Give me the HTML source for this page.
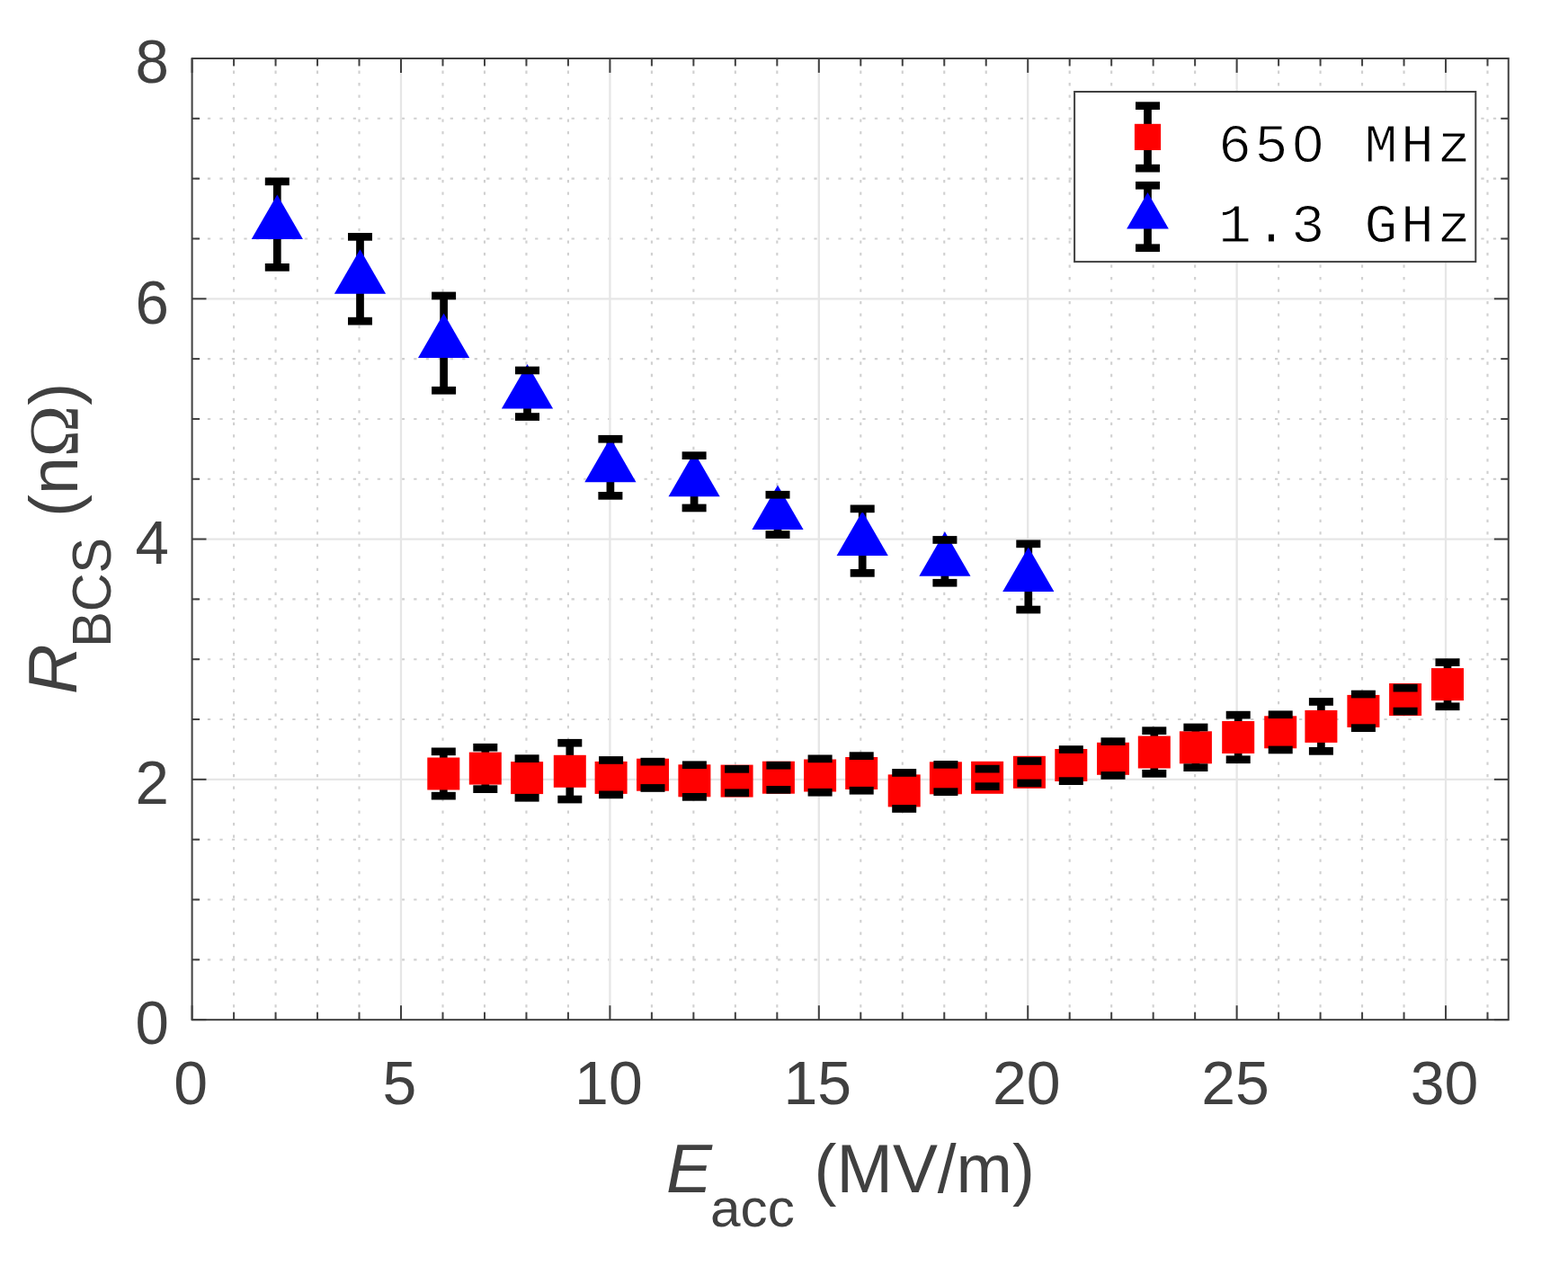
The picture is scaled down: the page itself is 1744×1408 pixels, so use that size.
<!DOCTYPE html>
<html lang="en"><head><meta charset="utf-8">
<title>R_BCS versus E_acc</title>
<style>
html,body{margin:0;padding:0;background:#fff;}
body{width:1744px;height:1408px;overflow:hidden;}
svg{display:block;}
.t{font-family:"Liberation Sans",sans-serif;fill:#404040;}
.tk{font-size:67.2px;}
.lb{font-size:74.5px;}
.sb{font-size:60.3px;}
.om{font-family:"Liberation Serif",serif;font-size:76.5px;}
.lg{font-family:"Liberation Mono",monospace;font-size:59.5px;letter-spacing:3.55px;fill:#000;stroke:#fff;stroke-width:1px;}
</style></head><body>
<svg width="1744" height="1408" viewBox="0 0 1744 1408">
<rect x="0" y="0" width="1744" height="1408" fill="#ffffff"/>
<g stroke="#d0d0d0" stroke-width="2.1" stroke-dasharray="3.3 10.19" fill="none">
<line x1="260.08" y1="65" x2="260.08" y2="1134.15" stroke-dashoffset="-0.1"/>
<line x1="306.56" y1="65" x2="306.56" y2="1134.15" stroke-dashoffset="-0.1"/>
<line x1="353.04" y1="65" x2="353.04" y2="1134.15" stroke-dashoffset="-0.1"/>
<line x1="399.52" y1="65" x2="399.52" y2="1134.15" stroke-dashoffset="-0.1"/>
<line x1="492.49" y1="65" x2="492.49" y2="1134.15" stroke-dashoffset="-0.1"/>
<line x1="538.97" y1="65" x2="538.97" y2="1134.15" stroke-dashoffset="-0.1"/>
<line x1="585.45" y1="65" x2="585.45" y2="1134.15" stroke-dashoffset="-0.1"/>
<line x1="631.93" y1="65" x2="631.93" y2="1134.15" stroke-dashoffset="-0.1"/>
<line x1="724.89" y1="65" x2="724.89" y2="1134.15" stroke-dashoffset="-0.1"/>
<line x1="771.37" y1="65" x2="771.37" y2="1134.15" stroke-dashoffset="-0.1"/>
<line x1="817.85" y1="65" x2="817.85" y2="1134.15" stroke-dashoffset="-0.1"/>
<line x1="864.33" y1="65" x2="864.33" y2="1134.15" stroke-dashoffset="-0.1"/>
<line x1="957.3" y1="65" x2="957.3" y2="1134.15" stroke-dashoffset="-0.1"/>
<line x1="1003.78" y1="65" x2="1003.78" y2="1134.15" stroke-dashoffset="-0.1"/>
<line x1="1050.26" y1="65" x2="1050.26" y2="1134.15" stroke-dashoffset="-0.1"/>
<line x1="1096.74" y1="65" x2="1096.74" y2="1134.15" stroke-dashoffset="-0.1"/>
<line x1="1189.7" y1="65" x2="1189.7" y2="1134.15" stroke-dashoffset="-0.1"/>
<line x1="1236.18" y1="65" x2="1236.18" y2="1134.15" stroke-dashoffset="-0.1"/>
<line x1="1282.66" y1="65" x2="1282.66" y2="1134.15" stroke-dashoffset="-0.1"/>
<line x1="1329.14" y1="65" x2="1329.14" y2="1134.15" stroke-dashoffset="-0.1"/>
<line x1="1422.1" y1="65" x2="1422.1" y2="1134.15" stroke-dashoffset="-0.1"/>
<line x1="1468.59" y1="65" x2="1468.59" y2="1134.15" stroke-dashoffset="-0.1"/>
<line x1="1515.07" y1="65" x2="1515.07" y2="1134.15" stroke-dashoffset="-0.1"/>
<line x1="1561.55" y1="65" x2="1561.55" y2="1134.15" stroke-dashoffset="-0.1"/>
<line x1="1654.51" y1="65" x2="1654.51" y2="1134.15" stroke-dashoffset="-0.1"/>
<line x1="213.6" y1="1067.33" x2="1677.75" y2="1067.33" stroke-dashoffset="-3.79"/>
<line x1="213.6" y1="1000.51" x2="1677.75" y2="1000.51" stroke-dashoffset="-3.79"/>
<line x1="213.6" y1="933.68" x2="1677.75" y2="933.68" stroke-dashoffset="-3.79"/>
<line x1="213.6" y1="800.04" x2="1677.75" y2="800.04" stroke-dashoffset="-3.79"/>
<line x1="213.6" y1="733.22" x2="1677.75" y2="733.22" stroke-dashoffset="-3.79"/>
<line x1="213.6" y1="666.4" x2="1677.75" y2="666.4" stroke-dashoffset="-3.79"/>
<line x1="213.6" y1="532.75" x2="1677.75" y2="532.75" stroke-dashoffset="-3.79"/>
<line x1="213.6" y1="465.93" x2="1677.75" y2="465.93" stroke-dashoffset="-3.79"/>
<line x1="213.6" y1="399.11" x2="1677.75" y2="399.11" stroke-dashoffset="-3.79"/>
<line x1="213.6" y1="265.47" x2="1677.75" y2="265.47" stroke-dashoffset="-3.79"/>
<line x1="213.6" y1="198.64" x2="1677.75" y2="198.64" stroke-dashoffset="-3.79"/>
<line x1="213.6" y1="131.82" x2="1677.75" y2="131.82" stroke-dashoffset="-3.79"/>
</g>
<g stroke="#e6e6e6" stroke-width="2.3" fill="none">
<line x1="446" y1="65" x2="446" y2="1134.15"/>
<line x1="678.41" y1="65" x2="678.41" y2="1134.15"/>
<line x1="910.81" y1="65" x2="910.81" y2="1134.15"/>
<line x1="1143.22" y1="65" x2="1143.22" y2="1134.15"/>
<line x1="1375.62" y1="65" x2="1375.62" y2="1134.15"/>
<line x1="1608.03" y1="65" x2="1608.03" y2="1134.15"/>
<line x1="213.6" y1="866.86" x2="1677.75" y2="866.86"/>
<line x1="213.6" y1="599.58" x2="1677.75" y2="599.58"/>
<line x1="213.6" y1="332.29" x2="1677.75" y2="332.29"/>
</g>
<g stroke="#404040" stroke-width="2" fill="none">
<line x1="213.6" y1="1134.15" x2="213.6" y2="1118.25"/>
<line x1="213.6" y1="65" x2="213.6" y2="80.9"/>
<line x1="260.08" y1="1134.15" x2="260.08" y2="1125.65"/>
<line x1="260.08" y1="65" x2="260.08" y2="73.5"/>
<line x1="306.56" y1="1134.15" x2="306.56" y2="1125.65"/>
<line x1="306.56" y1="65" x2="306.56" y2="73.5"/>
<line x1="353.04" y1="1134.15" x2="353.04" y2="1125.65"/>
<line x1="353.04" y1="65" x2="353.04" y2="73.5"/>
<line x1="399.52" y1="1134.15" x2="399.52" y2="1125.65"/>
<line x1="399.52" y1="65" x2="399.52" y2="73.5"/>
<line x1="446" y1="1134.15" x2="446" y2="1118.25"/>
<line x1="446" y1="65" x2="446" y2="80.9"/>
<line x1="492.49" y1="1134.15" x2="492.49" y2="1125.65"/>
<line x1="492.49" y1="65" x2="492.49" y2="73.5"/>
<line x1="538.97" y1="1134.15" x2="538.97" y2="1125.65"/>
<line x1="538.97" y1="65" x2="538.97" y2="73.5"/>
<line x1="585.45" y1="1134.15" x2="585.45" y2="1125.65"/>
<line x1="585.45" y1="65" x2="585.45" y2="73.5"/>
<line x1="631.93" y1="1134.15" x2="631.93" y2="1125.65"/>
<line x1="631.93" y1="65" x2="631.93" y2="73.5"/>
<line x1="678.41" y1="1134.15" x2="678.41" y2="1118.25"/>
<line x1="678.41" y1="65" x2="678.41" y2="80.9"/>
<line x1="724.89" y1="1134.15" x2="724.89" y2="1125.65"/>
<line x1="724.89" y1="65" x2="724.89" y2="73.5"/>
<line x1="771.37" y1="1134.15" x2="771.37" y2="1125.65"/>
<line x1="771.37" y1="65" x2="771.37" y2="73.5"/>
<line x1="817.85" y1="1134.15" x2="817.85" y2="1125.65"/>
<line x1="817.85" y1="65" x2="817.85" y2="73.5"/>
<line x1="864.33" y1="1134.15" x2="864.33" y2="1125.65"/>
<line x1="864.33" y1="65" x2="864.33" y2="73.5"/>
<line x1="910.81" y1="1134.15" x2="910.81" y2="1118.25"/>
<line x1="910.81" y1="65" x2="910.81" y2="80.9"/>
<line x1="957.3" y1="1134.15" x2="957.3" y2="1125.65"/>
<line x1="957.3" y1="65" x2="957.3" y2="73.5"/>
<line x1="1003.78" y1="1134.15" x2="1003.78" y2="1125.65"/>
<line x1="1003.78" y1="65" x2="1003.78" y2="73.5"/>
<line x1="1050.26" y1="1134.15" x2="1050.26" y2="1125.65"/>
<line x1="1050.26" y1="65" x2="1050.26" y2="73.5"/>
<line x1="1096.74" y1="1134.15" x2="1096.74" y2="1125.65"/>
<line x1="1096.74" y1="65" x2="1096.74" y2="73.5"/>
<line x1="1143.22" y1="1134.15" x2="1143.22" y2="1118.25"/>
<line x1="1143.22" y1="65" x2="1143.22" y2="80.9"/>
<line x1="1189.7" y1="1134.15" x2="1189.7" y2="1125.65"/>
<line x1="1189.7" y1="65" x2="1189.7" y2="73.5"/>
<line x1="1236.18" y1="1134.15" x2="1236.18" y2="1125.65"/>
<line x1="1236.18" y1="65" x2="1236.18" y2="73.5"/>
<line x1="1282.66" y1="1134.15" x2="1282.66" y2="1125.65"/>
<line x1="1282.66" y1="65" x2="1282.66" y2="73.5"/>
<line x1="1329.14" y1="1134.15" x2="1329.14" y2="1125.65"/>
<line x1="1329.14" y1="65" x2="1329.14" y2="73.5"/>
<line x1="1375.62" y1="1134.15" x2="1375.62" y2="1118.25"/>
<line x1="1375.62" y1="65" x2="1375.62" y2="80.9"/>
<line x1="1422.1" y1="1134.15" x2="1422.1" y2="1125.65"/>
<line x1="1422.1" y1="65" x2="1422.1" y2="73.5"/>
<line x1="1468.59" y1="1134.15" x2="1468.59" y2="1125.65"/>
<line x1="1468.59" y1="65" x2="1468.59" y2="73.5"/>
<line x1="1515.07" y1="1134.15" x2="1515.07" y2="1125.65"/>
<line x1="1515.07" y1="65" x2="1515.07" y2="73.5"/>
<line x1="1561.55" y1="1134.15" x2="1561.55" y2="1125.65"/>
<line x1="1561.55" y1="65" x2="1561.55" y2="73.5"/>
<line x1="1608.03" y1="1134.15" x2="1608.03" y2="1118.25"/>
<line x1="1608.03" y1="65" x2="1608.03" y2="80.9"/>
<line x1="1654.51" y1="1134.15" x2="1654.51" y2="1125.65"/>
<line x1="1654.51" y1="65" x2="1654.51" y2="73.5"/>
<line x1="213.6" y1="1134.15" x2="229.5" y2="1134.15"/>
<line x1="1677.75" y1="1134.15" x2="1661.85" y2="1134.15"/>
<line x1="213.6" y1="1067.33" x2="222.1" y2="1067.33"/>
<line x1="1677.75" y1="1067.33" x2="1669.25" y2="1067.33"/>
<line x1="213.6" y1="1000.51" x2="222.1" y2="1000.51"/>
<line x1="1677.75" y1="1000.51" x2="1669.25" y2="1000.51"/>
<line x1="213.6" y1="933.68" x2="222.1" y2="933.68"/>
<line x1="1677.75" y1="933.68" x2="1669.25" y2="933.68"/>
<line x1="213.6" y1="866.86" x2="229.5" y2="866.86"/>
<line x1="1677.75" y1="866.86" x2="1661.85" y2="866.86"/>
<line x1="213.6" y1="800.04" x2="222.1" y2="800.04"/>
<line x1="1677.75" y1="800.04" x2="1669.25" y2="800.04"/>
<line x1="213.6" y1="733.22" x2="222.1" y2="733.22"/>
<line x1="1677.75" y1="733.22" x2="1669.25" y2="733.22"/>
<line x1="213.6" y1="666.4" x2="222.1" y2="666.4"/>
<line x1="1677.75" y1="666.4" x2="1669.25" y2="666.4"/>
<line x1="213.6" y1="599.58" x2="229.5" y2="599.58"/>
<line x1="1677.75" y1="599.58" x2="1661.85" y2="599.58"/>
<line x1="213.6" y1="532.75" x2="222.1" y2="532.75"/>
<line x1="1677.75" y1="532.75" x2="1669.25" y2="532.75"/>
<line x1="213.6" y1="465.93" x2="222.1" y2="465.93"/>
<line x1="1677.75" y1="465.93" x2="1669.25" y2="465.93"/>
<line x1="213.6" y1="399.11" x2="222.1" y2="399.11"/>
<line x1="1677.75" y1="399.11" x2="1669.25" y2="399.11"/>
<line x1="213.6" y1="332.29" x2="229.5" y2="332.29"/>
<line x1="1677.75" y1="332.29" x2="1661.85" y2="332.29"/>
<line x1="213.6" y1="265.47" x2="222.1" y2="265.47"/>
<line x1="1677.75" y1="265.47" x2="1669.25" y2="265.47"/>
<line x1="213.6" y1="198.64" x2="222.1" y2="198.64"/>
<line x1="1677.75" y1="198.64" x2="1669.25" y2="198.64"/>
<line x1="213.6" y1="131.82" x2="222.1" y2="131.82"/>
<line x1="1677.75" y1="131.82" x2="1669.25" y2="131.82"/>
<line x1="213.6" y1="65" x2="229.5" y2="65"/>
<line x1="1677.75" y1="65" x2="1661.85" y2="65"/>
</g>
<rect x="213.6" y="65" width="1464.15" height="1069.15" fill="none" stroke="#404040" stroke-width="2"/>
<g fill="#000000">
<rect x="488.95" y="833.5" width="8.7" height="54"/>
<rect x="535.45" y="828.9" width="8.7" height="51.1"/>
<rect x="581.75" y="841.3" width="8.7" height="48.3"/>
<rect x="629.45" y="823.9" width="8.7" height="67.5"/>
<rect x="675.25" y="843.1" width="8.7" height="43.1"/>
<rect x="721.65" y="844.8" width="8.7" height="34"/>
<rect x="768.05" y="848.4" width="8.7" height="40.3"/>
<rect x="815.25" y="853" width="8.7" height="31.1"/>
<rect x="861.55" y="848.9" width="8.7" height="31.8"/>
<rect x="907.75" y="841.5" width="8.7" height="42.1"/>
<rect x="953.85" y="838.3" width="8.7" height="43.3"/>
<rect x="1001.35" y="857.1" width="8.7" height="44.7"/>
<rect x="1047.55" y="848" width="8.7" height="35"/>
<rect x="1093.75" y="852.8" width="8.7" height="24.2"/>
<rect x="1140.55" y="844.1" width="8.7" height="29.2"/>
<rect x="1186.95" y="831.2" width="8.7" height="39.8"/>
<rect x="1233.65" y="822.3" width="8.7" height="42.5"/>
<rect x="1279.45" y="810.3" width="8.7" height="52.4"/>
<rect x="1325.55" y="806.6" width="8.7" height="49.4"/>
<rect x="1372.85" y="792.8" width="8.7" height="54.3"/>
<rect x="1419.85" y="792.4" width="8.7" height="43.9"/>
<rect x="1465.05" y="778.1" width="8.7" height="59.6"/>
<rect x="1512.05" y="769.7" width="8.7" height="42.3"/>
<rect x="1558.75" y="762.8" width="8.7" height="30.6"/>
<rect x="1605.65" y="734.3" width="8.7" height="53.8"/>
</g>
<g fill="#ff0000">
<rect x="475.3" y="842.5" width="36" height="36"/>
<rect x="521.8" y="836.6" width="36" height="36"/>
<rect x="568.1" y="847.1" width="36" height="36"/>
<rect x="615.8" y="839.8" width="36" height="36"/>
<rect x="661.6" y="846.9" width="36" height="36"/>
<rect x="708" y="843.7" width="36" height="36"/>
<rect x="754.4" y="850.3" width="36" height="36"/>
<rect x="801.6" y="850.6" width="36" height="36"/>
<rect x="847.9" y="846.7" width="36" height="36"/>
<rect x="894.1" y="844.5" width="36" height="36"/>
<rect x="940.2" y="842" width="36" height="36"/>
<rect x="987.7" y="861.4" width="36" height="36"/>
<rect x="1033.9" y="847.3" width="36" height="36"/>
<rect x="1080.1" y="846.8" width="36" height="36"/>
<rect x="1126.9" y="840.8" width="36" height="36"/>
<rect x="1173.3" y="833" width="36" height="36"/>
<rect x="1220" y="825.8" width="36" height="36"/>
<rect x="1265.8" y="818.5" width="36" height="36"/>
<rect x="1311.9" y="813.3" width="36" height="36"/>
<rect x="1359.2" y="802" width="36" height="36"/>
<rect x="1406.2" y="796.3" width="36" height="36"/>
<rect x="1451.4" y="789.9" width="36" height="36"/>
<rect x="1498.4" y="772.9" width="36" height="36"/>
<rect x="1545.1" y="760" width="36" height="36"/>
<rect x="1592" y="743.1" width="36" height="36"/>
</g>
<g fill="#000000">
<rect x="479.8" y="831.5" width="27" height="8.7"/><rect x="479.8" y="880.8" width="27" height="8.7"/>
<rect x="526.3" y="826.9" width="27" height="8.7"/><rect x="526.3" y="873.3" width="27" height="8.7"/>
<rect x="572.6" y="839.3" width="27" height="8.7"/><rect x="572.6" y="882.9" width="27" height="8.7"/>
<rect x="620.3" y="821.9" width="27" height="8.7"/><rect x="620.3" y="884.7" width="27" height="8.7"/>
<rect x="666.1" y="841.1" width="27" height="8.7"/><rect x="666.1" y="879.5" width="27" height="8.7"/>
<rect x="712.5" y="842.8" width="27" height="8.7"/><rect x="712.5" y="872.1" width="27" height="8.7"/>
<rect x="758.9" y="846.4" width="27" height="8.7"/><rect x="758.9" y="882" width="27" height="8.7"/>
<rect x="806.1" y="851" width="27" height="8.7"/><rect x="806.1" y="877.4" width="27" height="8.7"/>
<rect x="852.4" y="846.9" width="27" height="8.7"/><rect x="852.4" y="874" width="27" height="8.7"/>
<rect x="898.6" y="839.5" width="27" height="8.7"/><rect x="898.6" y="876.9" width="27" height="8.7"/>
<rect x="944.7" y="836.3" width="27" height="8.7"/><rect x="944.7" y="874.9" width="27" height="8.7"/>
<rect x="992.2" y="855.1" width="27" height="8.7"/><rect x="992.2" y="895.1" width="27" height="8.7"/>
<rect x="1038.4" y="846" width="27" height="8.7"/><rect x="1038.4" y="876.3" width="27" height="8.7"/>
<rect x="1084.6" y="850.8" width="27" height="8.7"/><rect x="1084.6" y="870.3" width="27" height="8.7"/>
<rect x="1131.4" y="842.1" width="27" height="8.7"/><rect x="1131.4" y="866.6" width="27" height="8.7"/>
<rect x="1177.8" y="829.2" width="27" height="8.7"/><rect x="1177.8" y="864.3" width="27" height="8.7"/>
<rect x="1224.5" y="820.3" width="27" height="8.7"/><rect x="1224.5" y="858.1" width="27" height="8.7"/>
<rect x="1270.3" y="808.3" width="27" height="8.7"/><rect x="1270.3" y="856" width="27" height="8.7"/>
<rect x="1316.4" y="804.6" width="27" height="8.7"/><rect x="1316.4" y="849.3" width="27" height="8.7"/>
<rect x="1363.7" y="790.8" width="27" height="8.7"/><rect x="1363.7" y="840.4" width="27" height="8.7"/>
<rect x="1410.7" y="790.4" width="27" height="8.7"/><rect x="1410.7" y="829.6" width="27" height="8.7"/>
<rect x="1455.9" y="776.1" width="27" height="8.7"/><rect x="1455.9" y="831" width="27" height="8.7"/>
<rect x="1502.9" y="767.7" width="27" height="8.7"/><rect x="1502.9" y="805.3" width="27" height="8.7"/>
<rect x="1549.6" y="760.8" width="27" height="8.7"/><rect x="1549.6" y="786.7" width="27" height="8.7"/>
<rect x="1596.5" y="732.3" width="27" height="8.7"/><rect x="1596.5" y="781.4" width="27" height="8.7"/>
</g>
<g fill="#000000">
<rect x="303.95" y="199.5" width="8.7" height="100.2"/>
<rect x="396.15" y="261" width="8.7" height="98.5"/>
<rect x="489.25" y="326.6" width="8.7" height="110"/>
<rect x="582.15" y="409.6" width="8.7" height="56.3"/>
<rect x="674.55" y="485.9" width="8.7" height="67.8"/>
<rect x="767.75" y="504.3" width="8.7" height="63"/>
<rect x="860.65" y="547.9" width="8.7" height="49"/>
<rect x="954.85" y="563.5" width="8.7" height="76.2"/>
<rect x="1046.55" y="598.1" width="8.7" height="52.5"/>
<rect x="1139.45" y="602.5" width="8.7" height="77.9"/>
</g>
<g fill="#0000ff">
<polygon points="308.3,216.38 336.9,265.91 279.7,265.91"/>
<polygon points="400.5,277.18 429.1,326.71 371.9,326.71"/>
<polygon points="493.6,348.48 522.2,398.01 465,398.01"/>
<polygon points="586.5,404.98 615.1,454.51 557.9,454.51"/>
<polygon points="678.9,486.68 707.5,536.21 650.3,536.21"/>
<polygon points="772.1,502.78 800.7,552.31 743.5,552.31"/>
<polygon points="865,539.48 893.6,589.01 836.4,589.01"/>
<polygon points="959.2,568.58 987.8,618.11 930.6,618.11"/>
<polygon points="1050.9,591.28 1079.5,640.81 1022.3,640.81"/>
<polygon points="1143.8,608.48 1172.4,658.01 1115.2,658.01"/>
</g>
<g fill="#000000">
<rect x="294.8" y="197.5" width="27" height="8.7"/><rect x="294.8" y="293" width="27" height="8.7"/>
<rect x="387" y="259" width="27" height="8.7"/><rect x="387" y="352.8" width="27" height="8.7"/>
<rect x="480.1" y="324.6" width="27" height="8.7"/><rect x="480.1" y="429.9" width="27" height="8.7"/>
<rect x="573" y="407.6" width="27" height="8.7"/><rect x="573" y="459.2" width="27" height="8.7"/>
<rect x="665.4" y="483.9" width="27" height="8.7"/><rect x="665.4" y="547" width="27" height="8.7"/>
<rect x="758.6" y="502.3" width="27" height="8.7"/><rect x="758.6" y="560.6" width="27" height="8.7"/>
<rect x="851.5" y="545.9" width="27" height="8.7"/><rect x="851.5" y="590.2" width="27" height="8.7"/>
<rect x="945.7" y="561.5" width="27" height="8.7"/><rect x="945.7" y="633" width="27" height="8.7"/>
<rect x="1037.4" y="596.1" width="27" height="8.7"/><rect x="1037.4" y="643.9" width="27" height="8.7"/>
<rect x="1130.3" y="600.5" width="27" height="8.7"/><rect x="1130.3" y="673.7" width="27" height="8.7"/>
</g>
<rect x="1195.1" y="102" width="446.2" height="189.1" fill="#ffffff" stroke="#404040" stroke-width="2"/>
<g fill="#000000"><rect x="1272.15" y="115.3" width="8.7" height="74.2"/></g>
<rect x="1261.9" y="137.8" width="29.2" height="29.2" fill="#ff0000"/>
<g fill="#000000"><rect x="1263" y="113.3" width="27" height="8.7"/><rect x="1263" y="182.8" width="27" height="8.7"/></g>
<g fill="#000000"><rect x="1272.15" y="203.9" width="8.7" height="74.2"/></g>
<polygon points="1276.5,214.06 1299.85,254.5 1253.15,254.5" fill="#0000ff"/>
<g fill="#000000"><rect x="1263" y="201.9" width="27" height="8.7"/><rect x="1263" y="271.4" width="27" height="8.7"/></g>
<text class="lg" transform="translate(1355 179.9) scale(1.035 1.03)" text-anchor="start">650 MHz</text>
<text class="lg" transform="translate(1355 268.8) scale(1.035 1.03)" text-anchor="start">1.3 GHz</text>
<rect x="1449" y="154" width="11" height="11.2" fill="#ffffff"/>
<text class="t tk" transform="translate(212.1 1227.6) scale(1.012 1.03)" text-anchor="middle">0</text>
<text class="t tk" transform="translate(444.5 1227.6) scale(1.012 1.03)" text-anchor="middle">5</text>
<text class="t tk" transform="translate(676.91 1227.6) scale(1.012 1.03)" text-anchor="middle">10</text>
<text class="t tk" transform="translate(909.31 1227.6) scale(1.012 1.03)" text-anchor="middle">15</text>
<text class="t tk" transform="translate(1141.72 1227.6) scale(1.012 1.03)" text-anchor="middle">20</text>
<text class="t tk" transform="translate(1374.12 1227.6) scale(1.012 1.03)" text-anchor="middle">25</text>
<text class="t tk" transform="translate(1606.53 1227.6) scale(1.012 1.03)" text-anchor="middle">30</text>
<text class="t tk" transform="translate(187.8 1161.45) scale(1 1.03)" text-anchor="end">0</text>
<text class="t tk" transform="translate(187.8 894.16) scale(1 1.03)" text-anchor="end">2</text>
<text class="t tk" transform="translate(187.8 626.88) scale(1 1.03)" text-anchor="end">4</text>
<text class="t tk" transform="translate(187.8 359.59) scale(1 1.03)" text-anchor="end">6</text>
<text class="t tk" transform="translate(187.8 92.3) scale(1 1.03)" text-anchor="end">8</text>
<text class="t lb" transform="translate(741 1326.15) scale(1.025 1.0216)" text-anchor="start"><tspan font-style="italic">E</tspan></text>
<text class="t sb" transform="translate(790 1364) scale(1 0.99)" text-anchor="start">acc</text>
<text class="t lb" transform="translate(905.6 1326.3) scale(1.005 1.0216)" text-anchor="start">(MV/m)</text>
<text class="t lb" transform="translate(85.2 772) rotate(-90) scale(1.033 1.03)" text-anchor="start"><tspan font-style="italic">R</tspan></text>
<text class="t sb" transform="translate(123 719.75) rotate(-90) scale(0.983 1.022)" text-anchor="start">BCS</text>
<text class="t lb" transform="translate(85.5 575) rotate(-90) scale(1.009 1.0216)" text-anchor="start">(n<tspan class="om">Ω</tspan>)</text>
</svg>
</body></html>
